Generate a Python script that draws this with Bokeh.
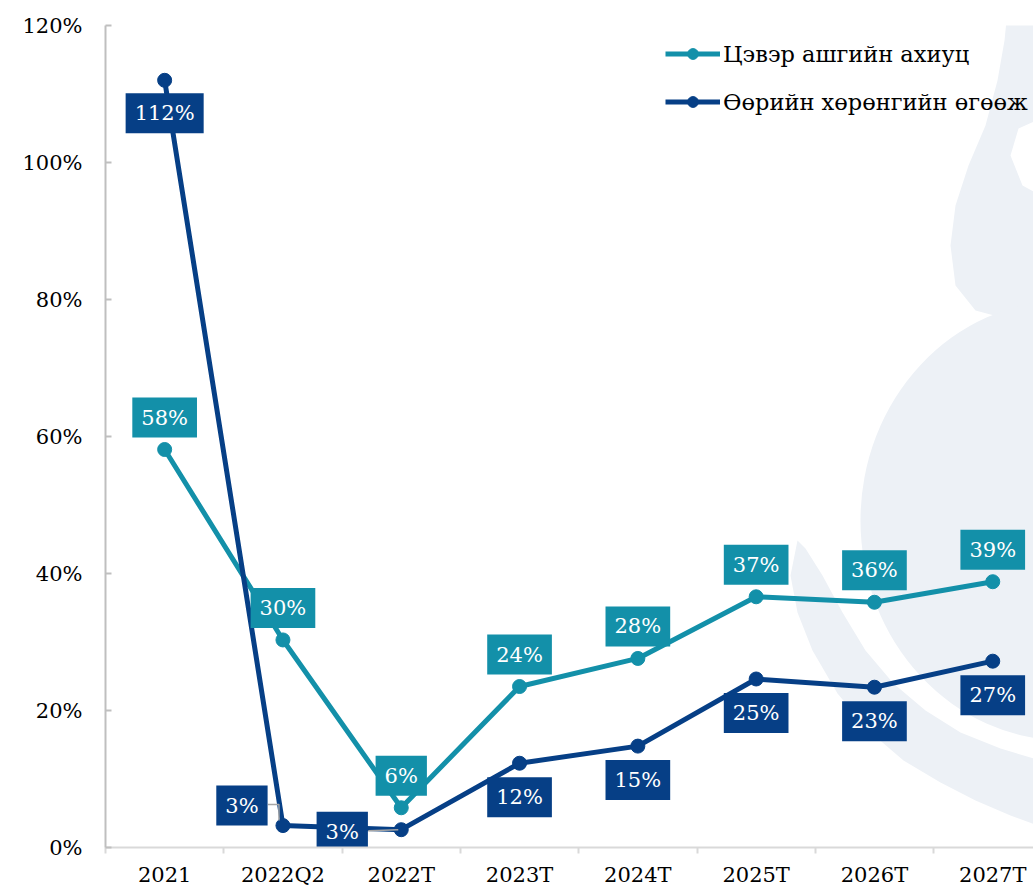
from bokeh.plotting import figure
from bokeh.models import (Range1d, FixedTicker, Legend, LegendItem,
                          PrintfTickFormatter, ColumnDataSource)
from bokeh.core.properties import value
from bokeh.embed import file_html
from bokeh.resources import INLINE

# ---------------- data ----------------
categories = ["2021", "2022Q2", "2022T", "2023T", "2024T", "2025T", "2026T", "2027T"]
net_margin = [58.1, 30.3, 5.8, 23.5, 27.6, 36.6, 35.8, 38.8]      # Цэвэр ашгийн ахиуц
roe = [112.0, 3.2, 2.6, 12.3, 14.8, 24.6, 23.4, 27.2]            # Өөрийн хөрөнгийн өгөөж
series_names = ["Цэвэр ашгийн ахиуц", "Өөрийн хөрөнгийн өгөөж"]
y_ticks = [0, 20, 40, 60, 80, 100, 120]

# ---------------- styles / layout ----------------
TEAL = "#1390A9"
NAVY = "#063F86"
WM = "#EDF1F6"
FONT = "DejaVu Serif"

W, H = 1033, 889
BL, BR, BT, BB = 105, 0, 25, 42
FW, FH = W - BL - BR, H - BT - BB
PXX = 118.3                      # px per category
X0 = -0.5
X1 = X0 + FW / PXX
Y0, Y1 = 0, 120
PXY = FH / (Y1 - Y0)

# label offsets (px)
teal_dx = [0] * 8
teal_dy = [-32] * 8
navy_dx = [0, -41, -59, 0, 0, 0, 0, 0]
navy_dy = [33, -20, 2, 34, 34, 34, 34, 34]

p = figure(width=W, height=H, output_backend="svg", toolbar_location=None,
           x_range=Range1d(X0, X1), y_range=Range1d(Y0, Y1),
           min_border_left=BL, min_border_right=BR, min_border_top=BT,
           min_border_bottom=BB)
p.outline_line_color = None
p.xgrid.visible = False
p.ygrid.visible = False
p.background_fill_color = "white"
p.border_fill_color = "white"

# canvas pixel -> data helpers (for watermark + leader lines)
def fx(px):
    return X0 + (px - BL) / PXX

def fy(py):
    return Y1 - (py - BT) / PXY

# ---------------- watermark (decorative background) ----------------
crescent = [(797, 540), (790, 575), (797, 612), (812, 650), (837, 693), (868, 730),
            (903, 760), (940, 782), (975, 800), (1010, 815), (1040, 826),
            (1040, 760), (1000, 748), (960, 732), (925, 710), (893, 683),
            (865, 650), (842, 612), (822, 575), (805, 548)]
flame = [(1008, 0), (1040, 0), (1040, 118), (1018, 128), (1010, 155), (1022, 185),
         (1040, 195), (1040, 312), (1005, 318), (975, 310), (955, 285), (950, 245),
         (955, 205), (968, 165), (985, 125), (997, 80), (1004, 40)]
for shape in (crescent, flame):
    p.patch([fx(a) for a, b in shape], [fy(b) for a, b in shape],
            fill_color=WM, line_color=None)
p.ellipse(x=[fx(1065)], y=[fy(520)], width=410, height=440,
          width_units="screen", height_units="screen",
          fill_color=WM, line_color=None)

xs = list(range(len(categories)))

# ---------------- lines ----------------
r_tl = p.line(xs, net_margin, line_color=TEAL, line_width=5)
r_tc = p.scatter(xs, net_margin, size=14, fill_color=TEAL, line_color=TEAL)
r_nl = p.line(xs, roe, line_color=NAVY, line_width=5)
r_nc = p.scatter(xs, roe, size=14, fill_color=NAVY, line_color=NAVY)

# leader lines for the two small labels (px paths relative to point)
leaders = {1: [(-15, -21), (-4, -21), (-4, -5)], 2: [(-33, 1), (-3, 0)]}
for i, path in leaders.items():
    lx = [xs[i] + dx / PXX for dx, dy in path]
    ly = [roe[i] - dy / PXY for dx, dy in path]
    p.line(lx, ly, line_color="#A6A6A6", line_width=1.5)

# ---------------- data labels ----------------
def add_labels(vals, dxs, dys, color):
    src = ColumnDataSource(dict(x=xs, y=vals,
                                t=[f"{round(v):d}%" for v in vals],
                                dx=dxs, dy=dys))
    p.text(x="x", y="y", text="t", x_offset="dx", y_offset="dy", source=src,
           text_align="center", text_baseline="middle",
           text_color="white", text_font=value(FONT), text_font_size="21px",
           background_fill_color=color, padding=(9, 8))

add_labels(net_margin, teal_dx, teal_dy, TEAL)
add_labels(roe, navy_dx, navy_dy, NAVY)

# ---------------- axes ----------------
xa = p.xaxis[0]
xa.ticker = FixedTicker(ticks=xs, minor_ticks=[i - 0.5 for i in xs])
xa.major_label_overrides = {i: c for i, c in enumerate(categories)}
xa.major_tick_line_color = None
xa.major_tick_out = 0
xa.major_tick_in = 0
xa.minor_tick_line_color = "#D9D9D9"
xa.minor_tick_line_width = 2
xa.minor_tick_out = 6
xa.minor_tick_in = 0
xa.axis_line_color = "#D9D9D9"
xa.axis_line_width = 2
xa.major_label_standoff = 9
xa.major_label_text_font = FONT
xa.major_label_text_font_size = "21px"
xa.major_label_text_color = "black"

ya = p.yaxis[0]
ya.ticker = FixedTicker(ticks=y_ticks, minor_ticks=[])
ya.formatter = PrintfTickFormatter(format="%d%%")
ya.axis_line_color = "#BFBFBF"
ya.axis_line_width = 2
ya.major_tick_line_color = "#BFBFBF"
ya.major_tick_line_width = 2
ya.major_tick_in = 6
ya.major_tick_out = 0
ya.minor_tick_line_color = None
ya.major_label_standoff = 23
ya.major_label_text_font = FONT
ya.major_label_text_font_size = "21px"
ya.major_label_text_color = "black"

# ---------------- legend ----------------
legend = Legend(items=[LegendItem(label=series_names[0], renderers=[r_tl, r_tc]),
                       LegendItem(label=series_names[1], renderers=[r_nl, r_nc])],
                location=(560, 732), orientation="vertical",
                glyph_width=55, glyph_height=27, label_height=27,
                label_standoff=3, spacing=21, padding=0, margin=0,
                border_line_color=None, background_fill_alpha=0,
                label_text_font=FONT, label_text_font_size="22.5px",
                label_text_color="black")
p.add_layout(legend)

open("out.html", "w").write(file_html(p, INLINE))
